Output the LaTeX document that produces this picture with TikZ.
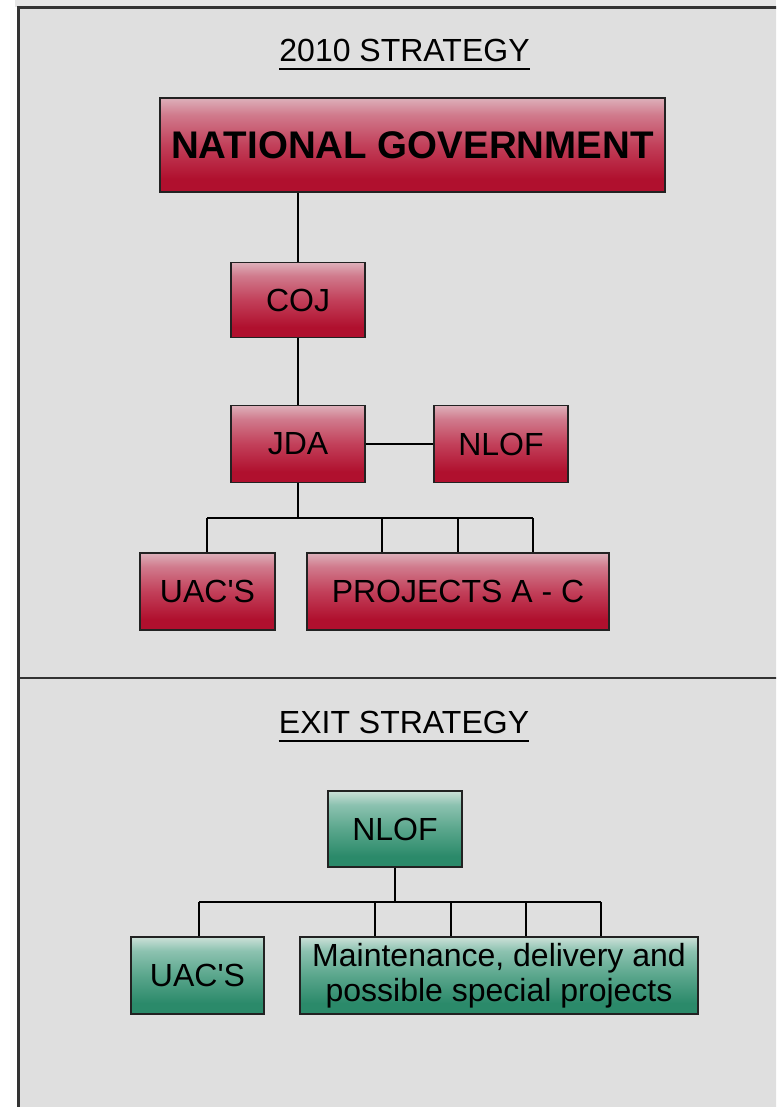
\documentclass[tikz,border=0pt]{standalone}
\usepackage{fontspec}
\setmainfont{Liberation Sans}
\definecolor{panel}{HTML}{DFDFDF}
\definecolor{frame}{HTML}{333333}
\definecolor{topstrip}{HTML}{E6E6E6}
\definecolor{boxline}{HTML}{222222}
\definecolor{redtop}{HTML}{DDB0BA}
\definecolor{redlite}{HTML}{D07A8C}
\definecolor{redmid}{HTML}{C2405A}
\definecolor{redbot}{HTML}{B0102E}
\definecolor{gtop}{HTML}{CCE0D8}
\definecolor{glite}{HTML}{8CC2B0}
\definecolor{gmid}{HTML}{5AA68C}
\definecolor{gbot}{HTML}{2B8A6A}
\pgfdeclareverticalshading{redglass}{100bp}{color(0bp)=(redbot); color(25bp)=(redbot); color(32bp)=(redbot); color(50bp)=(redmid); color(66bp)=(redlite); color(75bp)=(redtop); color(100bp)=(redtop)}
\pgfdeclareverticalshading{greenglass}{100bp}{color(0bp)=(gbot); color(25bp)=(gbot); color(32bp)=(gbot); color(50bp)=(gmid); color(66bp)=(glite); color(75bp)=(gtop); color(100bp)=(gtop)}
\tikzset{
  orgbox/.style={draw=boxline, line width=1.8pt, inner sep=0pt, minimum height=77pt,
    font=\fontsize{32}{35}\selectfont, align=center},
  redbox/.style={orgbox, shading=redglass},
  greenbox/.style={orgbox, shading=greenglass},
  link/.style={draw=black, line width=1.7pt},
  heading/.style={inner sep=0pt, font=\fontsize{32}{35}\selectfont},
  underline/.style={draw=black, line width=1.6pt}
}
\begin{document}
\begin{tikzpicture}[x=1pt, y=-1pt]
\useasboundingbox (0,0) rectangle (776,1107);
\clip (0,0) rectangle (776,1107);
% background and panel
\fill[white] (0,0) rectangle (776,1107);
\fill[topstrip] (15,0) rectangle (776,7);
\filldraw[fill=panel, draw=frame, line width=2.6pt] (18.5,7.5) rectangle (800,1130);
\draw[draw=frame, line width=2.6pt] (18.5,678) -- (800,678);

% 2010 strategy
\node[heading] (t1) at (404.5,50) {2010 STRATEGY};
\draw[underline] (t1.south west |- 0,69) coordinate (u1a) -- (t1.south east |- 0,69) coordinate (u1b);

\node[redbox, minimum width=505pt, minimum height=94pt, font=\bfseries\fontsize{38.5}{42}\selectfont] (ng) at (412.5,145) {NATIONAL GOVERNMENT};
\node[redbox, minimum width=134pt, minimum height=75pt] (coj) at (298,300) {COJ};
\node[redbox, minimum width=134pt] (jda) at (298,444) {JDA};
\node[redbox, minimum width=134pt] (nlof) at (501,444) {NLOF};
\node[redbox, minimum width=135pt] (uac) at (207.5,591.5) {UAC\textquotesingle S};
\node[redbox, minimum width=302pt] (proj) at (458,591.5) {PROJECTS A - C};

\draw[link] (coj.north) -- (coj.north |- ng.south);
\draw[link] (coj.south) -- (jda.north);
\draw[link] (jda.east) -- (nlof.west);
\coordinate (b1) at (207,518);
\coordinate (b2) at (382,518);
\coordinate (b3) at (458,518);
\coordinate (b4) at (533,518);
\draw[link] (jda.south) -- (jda.south |- b1);
\draw[link] (b1) -- (b4);
\draw[link] (b1) -- (b1 |- uac.north);
\draw[link] (b2) -- (b2 |- proj.north);
\draw[link] (b3) -- (b3 |- proj.north);
\draw[link] (b4) -- (b4 |- proj.north);

% exit strategy
\node[heading] (t2) at (404,722) {EXIT STRATEGY};
\draw[underline] (t2.south west |- 0,741) coordinate (u2a) -- (t2.south east |- 0,741) coordinate (u2b);

\node[greenbox, minimum width=134pt, minimum height=76pt] (nlof2) at (395,829) {NLOF};
\node[greenbox, minimum width=133pt] (uac2) at (197.5,975.5) {UAC\textquotesingle S};
\node[greenbox, minimum width=398pt] (maint) at (499,975.5) {Maintenance, delivery and\\possible special projects};

\coordinate (c1) at (199,902);
\coordinate (c2) at (375,902);
\coordinate (c3) at (451,902);
\coordinate (c4) at (526,902);
\coordinate (c5) at (601,902);
\draw[link] (nlof2.south) -- (nlof2.south |- c1);
\draw[link] (c1) -- (c5);
\draw[link] (c1) -- (c1 |- uac2.north);
\draw[link] (c2) -- (c2 |- maint.north);
\draw[link] (c3) -- (c3 |- maint.north);
\draw[link] (c4) -- (c4 |- maint.north);
\draw[link] (c5) -- (c5 |- maint.north);
\end{tikzpicture}
\end{document}
